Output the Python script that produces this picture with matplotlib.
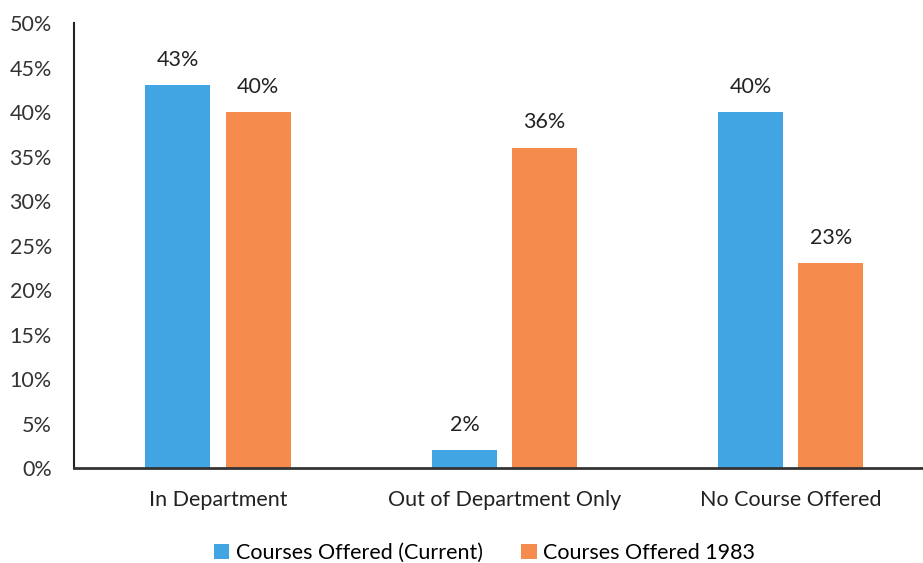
import matplotlib.pyplot as plt
import numpy as np

categories = ['In Department', 'Out of Department Only', 'No Course Offered']
current = [43, 2, 40]
offered_1983 = [40, 36, 23]
series_names = ['Courses Offered (Current)', 'Courses Offered 1983']
yticks = [0, 5, 10, 15, 20, 25, 30, 35, 40, 45, 50]

plt.rcParams['font.family'] = ['Lato', 'DejaVu Sans']

fig = plt.figure(figsize=(9.23, 5.63), dpi=100)
ax = fig.add_axes([0.0802, 0.1687, 0.9318, 0.7904])

x = np.arange(len(categories))
w = 0.227
off = 0.14
b1 = ax.bar(x - off, current, w, color='#41A5E3', label=series_names[0])
b2 = ax.bar(x + off, offered_1983, w, color='#F58B4C', label=series_names[1])

for bars, vals in ((b1, current), (b2, offered_1983)):
    for rect, v in zip(bars, vals):
        ax.annotate(f'{v}%', (rect.get_x() + rect.get_width() / 2, v),
                    xytext=(0, 11), textcoords='offset points',
                    ha='center', va='bottom', fontsize=15.5, color='#222222')

ax.set_xlim(-0.503, 2.5)
ax.set_ylim(0, 50)
ax.set_yticks(yticks)
ax.set_yticklabels([f'{t}%' for t in yticks])
ax.set_xticks(x)
ax.set_xticklabels(categories)
ax.tick_params(axis='y', length=0, pad=16, labelsize=15.5, labelcolor='#333333')
ax.tick_params(axis='x', length=0, pad=16, labelsize=15.5, labelcolor='#222222')

ax.spines['top'].set_visible(False)
ax.spines['right'].set_visible(False)
ax.spines['left'].set_linewidth(1.5)
ax.spines['left'].set_color('#222222')
ax.spines['bottom'].set_linewidth(2)
ax.spines['bottom'].set_color('#333333')

fig.legend(handles=[b1, b2], loc='lower center', bbox_to_anchor=(0.525, -0.035),
           ncol=2, frameon=False, fontsize=15.5, handlelength=0.7,
           handleheight=0.7, columnspacing=1.8, handletextpad=0.3)

fig.savefig('out.png', dpi=100)
